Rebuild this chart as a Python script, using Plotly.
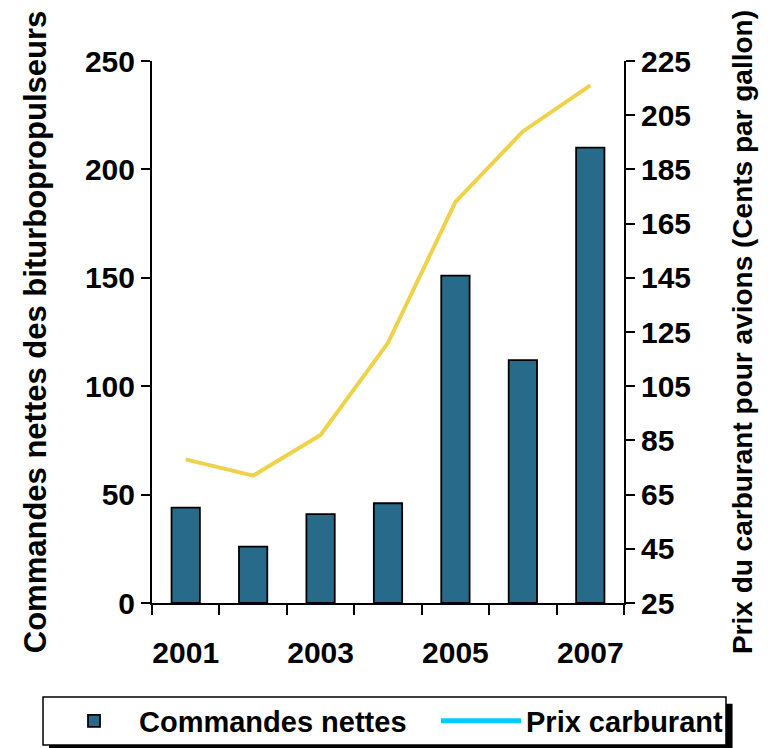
import plotly.graph_objects as go

years = [2001, 2002, 2003, 2004, 2005, 2006, 2007]
commandes = [44, 26, 41, 46, 151, 112, 210]
prix = [78, 72, 87, 121, 173, 199, 216]
year_labels = [2001, 2003, 2005, 2007]

FONT = "Liberation Sans"
bar_color = "#286A8A"
line_color = "#F0D24A"
legend_line_color = "#00CCFF"

fig = go.Figure()
fig.add_trace(go.Bar(
    x=years, y=commandes, name="Commandes nettes",
    marker=dict(color=bar_color, line=dict(color="black", width=1.8)),
    width=0.42, yaxis="y", legend="legend",
))
fig.add_trace(go.Scatter(
    x=years, y=prix, name="Prix carburant", mode="lines",
    line=dict(color=line_color, width=4), yaxis="y2", showlegend=False,
))
fig.add_trace(go.Scatter(
    x=[None], y=[None], name="Prix carburant", mode="lines",
    line=dict(color=legend_line_color, width=5), yaxis="y2", legend="legend2",
))

tick_font = dict(family=FONT, size=30, color="black", weight="bold")
legend_font = dict(family=FONT, size=29, color="black", weight="bold")

# legend frame with drop shadow (paper coordinates relative to the plot area)
fig.add_shape(type="rect", xref="paper", yref="paper",
              x0=-0.2182, x1=1.2300, y0=-0.2740, y1=-0.1860,
              fillcolor="black", line=dict(width=0), layer="above")
fig.add_shape(type="rect", xref="paper", yref="paper",
              x0=-0.2309, x1=1.2161, y0=-0.2620, y1=-0.1734,
              fillcolor="white", line=dict(color="black", width=1.5), layer="above")

fig.update_layout(
    width=760, height=740,
    margin=dict(l=144, r=144, t=53, b=145, autoexpand=False),
    paper_bgcolor="white", plot_bgcolor="white",
    showlegend=True,
    xaxis=dict(
        range=[2000.5, 2007.5], tickmode="array", tickvals=year_labels,
        ticks="", showgrid=False, zeroline=False, automargin=False,
        showline=True, linecolor="black", linewidth=2,
        tickfont=tick_font, ticklabelstandoff=22,
        minor=dict(tick0=2000.5, dtick=1, ticks="outside", ticklen=10,
                   tickwidth=2, tickcolor="black", showgrid=False),
    ),
    yaxis=dict(
        range=[0, 250], tickmode="linear", tick0=0, dtick=50,
        ticks="outside", ticklen=9, tickwidth=2, tickcolor="black",
        showline=True, linecolor="black", linewidth=2, automargin=False,
        showgrid=False, zeroline=False, tickfont=tick_font,
        title=dict(text="Commandes nettes des biturbopropulseurs",
                   font=dict(family=FONT, size=31, color="black", weight="bold"),
                   standoff=29),
    ),
    yaxis2=dict(
        range=[25, 225], tickmode="linear", tick0=25, dtick=20,
        overlaying="y", side="right", automargin=False,
        ticks="outside", ticklen=9, tickwidth=2, tickcolor="black",
        showline=True, linecolor="black", linewidth=2,
        showgrid=False, zeroline=False, tickfont=tick_font,
        title=dict(text="Prix du carburant pour avions (Cents par gallon)",
                   font=dict(family=FONT, size=28, color="black", weight="bold"),
                   standoff=42),
    ),
    legend=dict(
        orientation="h", xref="paper", yref="paper",
        x=-0.2182, y=-0.2177, xanchor="left", yanchor="middle",
        bgcolor="rgba(0,0,0,0)", borderwidth=0,
        font=legend_font, itemwidth=80,
    ),
    legend2=dict(
        orientation="h", xref="paper", yref="paper",
        x=0.6017, y=-0.2177, xanchor="left", yanchor="middle",
        bgcolor="rgba(0,0,0,0)", borderwidth=0,
        font=legend_font, itemwidth=80,
    ),
)

fig.write_html("out.html")
